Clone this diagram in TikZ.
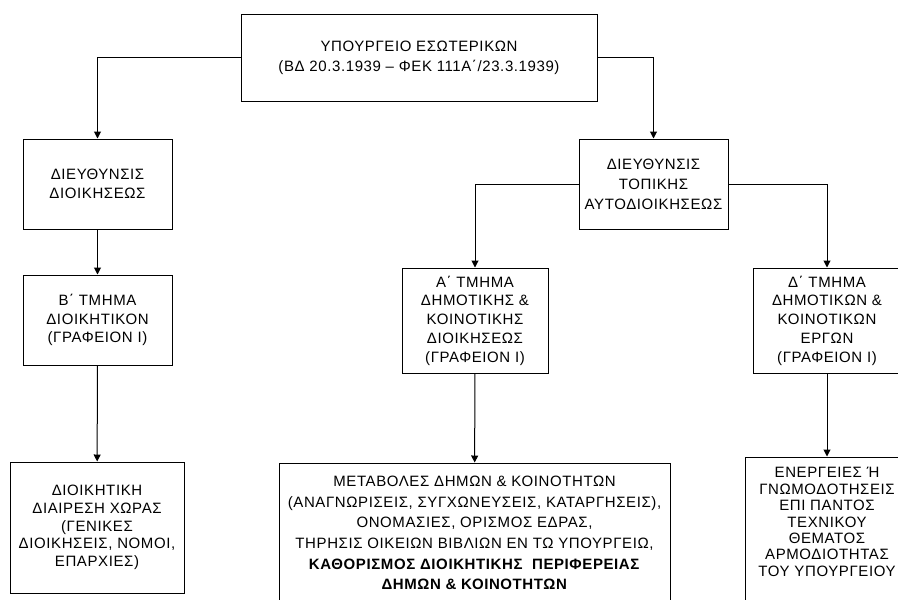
\documentclass[tikz,border=0pt]{standalone}
\usepackage{fontspec}
\setmainfont{Liberation Sans}[LetterSpace=4]
\usetikzlibrary{arrows.meta}
\begin{document}
\begin{tikzpicture}[x=1pt,y=-1pt,
  box/.style={draw, line width=1pt, rectangle, align=center, inner sep=0pt, font=\fontsize{15}{18.8}\selectfont},
  conn/.style={line width=1pt, -{Triangle[length=7pt,width=7pt]}}]
\useasboundingbox (0,0) rectangle (898,600);
\fill[white] (0,0) rectangle (898,600);
\clip (0,0) rectangle (898,600);
% boxes
\node[box, minimum width=356pt, minimum height=87pt, font=\fontsize{15}{20}\selectfont] (top) at (419,57.5)
  {ΥΠΟΥΡΓΕΙΟ ΕΣΩΤΕΡΙΚΩΝ\\(ΒΔ 20.3.1939 – ΦΕΚ 111Α΄/23.3.1939)};
\node[box, minimum width=149pt, minimum height=90pt] (dioik) at (97.5,184)
  {ΔΙΕΥΘΥΝΣΙΣ\\ΔΙΟΙΚΗΣΕΩΣ};
\node[box, minimum width=149pt, minimum height=90pt] (btm) at (97.5,320)
  {Β΄ ΤΜΗΜΑ\\ΔΙΟΙΚΗΤΙΚΟΝ\\(ΓΡΑΦΕΙΟΝ Ι)};
\node[box, minimum width=174pt, minimum height=131pt, font=\fontsize{15}{17.7}\selectfont] (diair) at (97,527.5)
  {ΔΙΟΙΚΗΤΙΚΗ\\ΔΙΑΙΡΕΣΗ ΧΩΡΑΣ\\(ΓΕΝΙΚΕΣ\\ΔΙΟΙΚΗΣΕΙΣ, ΝΟΜΟΙ,\\ΕΠΑΡΧΙΕΣ)};
\node[box, minimum width=149pt, minimum height=90pt, font=\fontsize{15}{20}\selectfont] (topik) at (653.5,184)
  {ΔΙΕΥΘΥΝΣΙΣ\\ΤΟΠΙΚΗΣ\\ΑΥΤΟΔΙΟΙΚΗΣΕΩΣ};
\node[box, minimum width=146pt, minimum height=105pt] (atm) at (475,320.5)
  {Α΄ ΤΜΗΜΑ\\ΔΗΜΟΤΙΚΗΣ \&\\ΚΟΙΝΟΤΙΚΗΣ\\ΔΙΟΙΚΗΣΕΩΣ\\(ΓΡΑΦΕΙΟΝ Ι)};
\node[box, minimum width=148pt, minimum height=105pt] (dtm) at (827,320.5)
  {Δ΄ ΤΜΗΜΑ\\ΔΗΜΟΤΙΚΩΝ \&\\ΚΟΙΝΟΤΙΚΩΝ\\ΕΡΓΩΝ\\(ΓΡΑΦΕΙΟΝ Ι)};
\node[box, minimum width=391pt, minimum height=140pt, font=\fontsize{15}{20.6}\selectfont] (metab) at (474.5,533)
  {ΜΕΤΑΒΟΛΕΣ ΔΗΜΩΝ \& ΚΟΙΝΟΤΗΤΩΝ\\(ΑΝΑΓΝΩΡΙΣΕΙΣ, ΣΥΓΧΩΝΕΥΣΕΙΣ, ΚΑΤΑΡΓΗΣΕΙΣ),\\ΟΝΟΜΑΣΙΕΣ, ΟΡΙΣΜΟΣ ΕΔΡΑΣ,\\ΤΗΡΗΣΙΣ ΟΙΚΕΙΩΝ ΒΙΒΛΙΩΝ ΕΝ ΤΩ ΥΠΟΥΡΓΕΙΩ,\\\textbf{ΚΑΘΟΡΙΣΜΟΣ ΔΙΟΙΚΗΤΙΚΗΣ\ \ ΠΕΡΙΦΕΡΕΙΑΣ}\\\textbf{ΔΗΜΩΝ \& ΚΟΙΝΟΤΗΤΩΝ}};
\node[box, minimum width=164pt, minimum height=150pt, font=\fontsize{15}{16.4}\selectfont] (energ) at (827,532)
  {ΕΝΕΡΓΕΙΕΣ Ή\\ΓΝΩΜΟΔΟΤΗΣΕΙΣ\\ΕΠΙ ΠΑΝΤΟΣ\\ΤΕΧΝΙΚΟΥ\\ΘΕΜΑΤΟΣ\\ΑΡΜΟΔΙΟΤΗΤΑΣ\\ΤΟΥ ΥΠΟΥΡΓΕΙΟΥ\\[3.6pt]\mbox{}};
% connectors
\draw[conn] (top.west) -| (dioik.north);
\draw[conn] (top.east) -| (topik.north);
\draw[conn] (dioik) -- (btm);
\draw[conn] (btm) -- (diair);
\draw[conn] (topik.west) -| (atm.north);
\draw[conn] (topik.east) -| (dtm.north);
\draw[conn] (atm) -- (metab);
\draw[conn] (dtm) -- (energ);
\end{tikzpicture}
\end{document}
